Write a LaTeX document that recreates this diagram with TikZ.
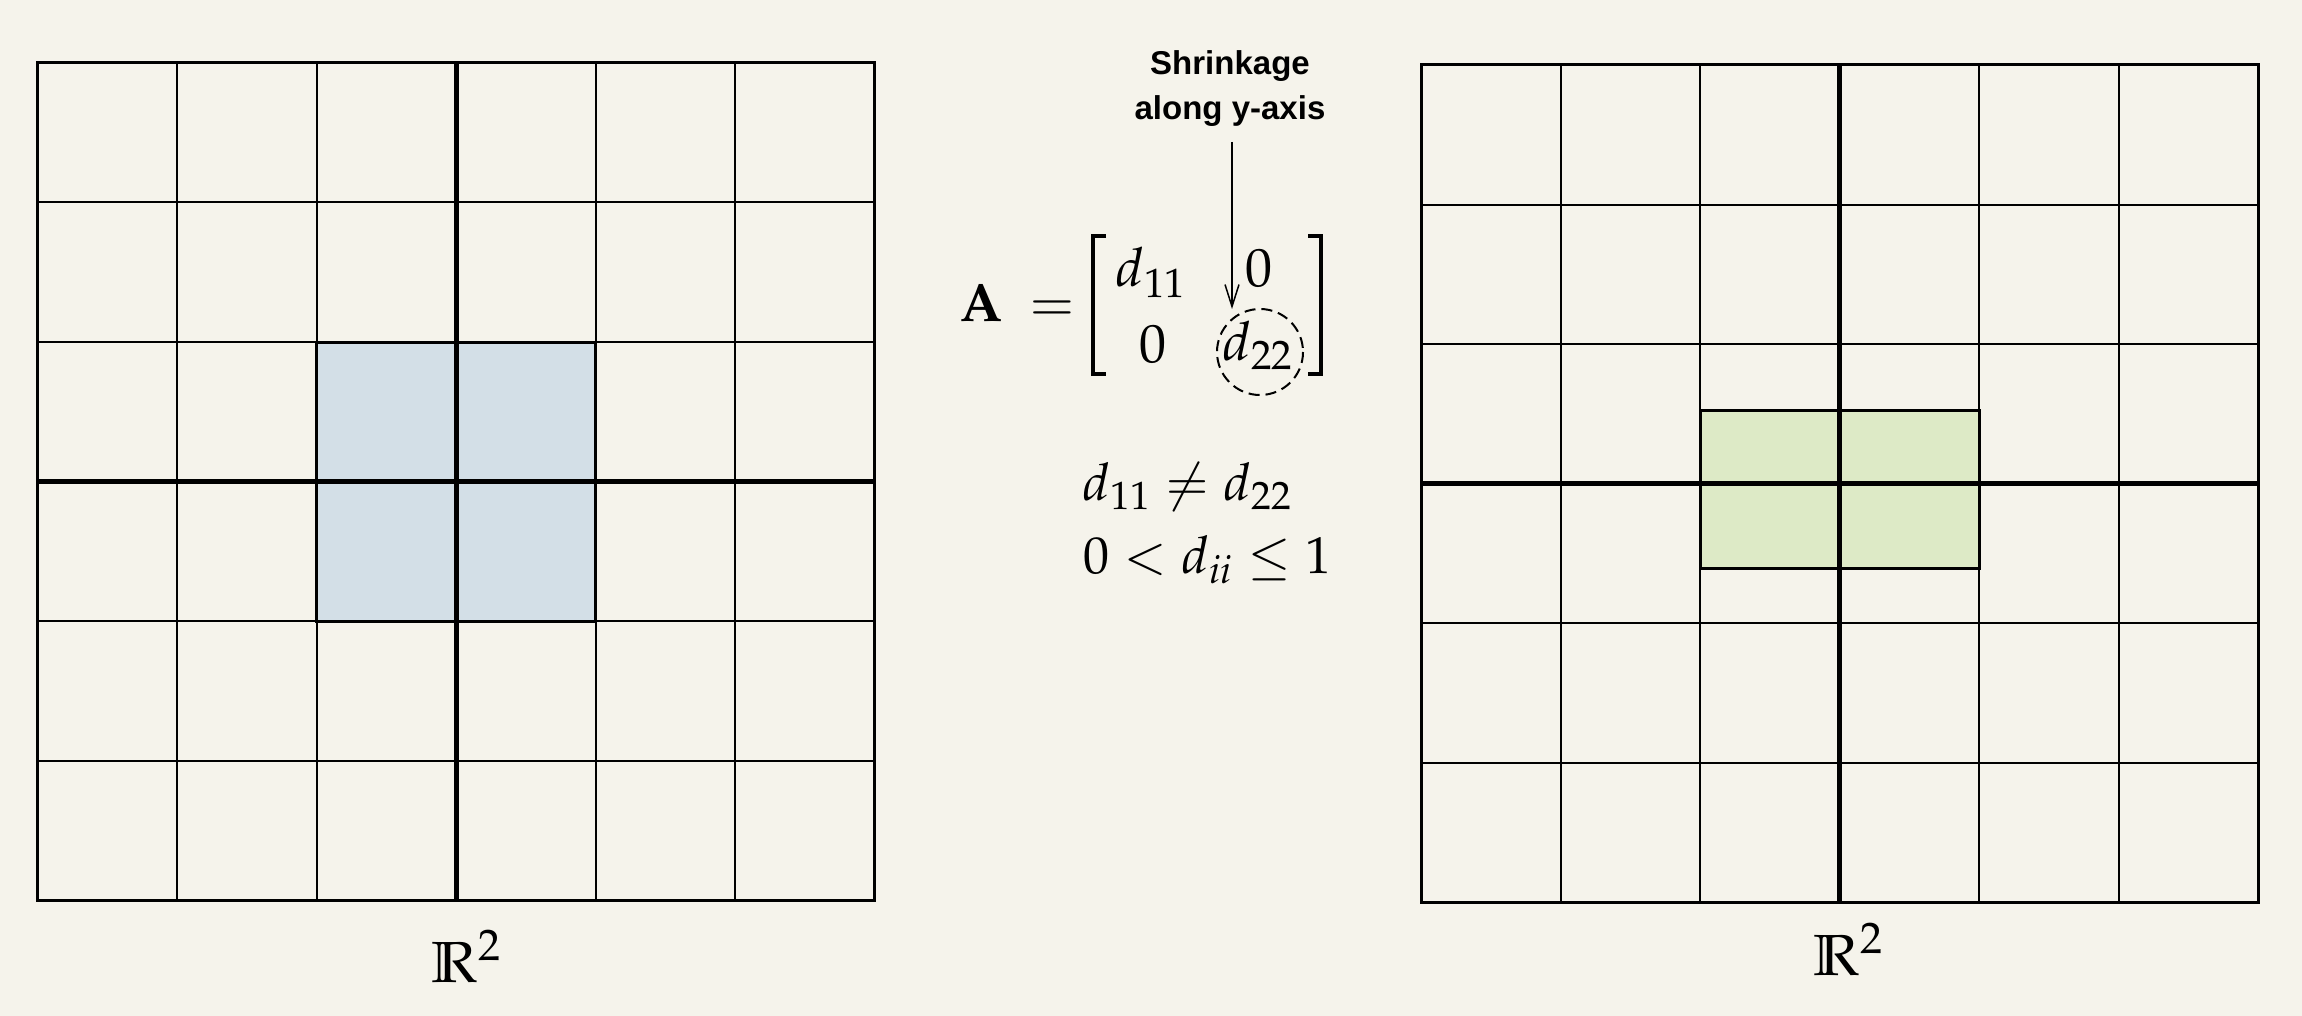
\documentclass[tikz,border=0pt]{standalone}
\usepackage{mathpazo}
\usepackage{amssymb}
\usepackage[no-math]{fontspec}
\newfontfamily\labfont{Liberation Sans}
\usetikzlibrary{arrows.meta}
\definecolor{bgc}{RGB}{245,243,235}
\definecolor{bluefill}{RGB}{211,223,231}
\definecolor{greenfill}{RGB}{221,234,198}
\tikzset{
  gridline/.style={line width=2pt, black},
  gridborder/.style={line width=3pt, black},
  axisline/.style={line width=5pt, black},
  rectborder/.style={line width=3pt, black},
  mathbig/.style={inner sep=0pt, font=\fontsize{54}{60}\selectfont},
  mathcond/.style={inner sep=0pt, font=\fontsize{52}{60}\selectfont},
  mathR/.style={inner sep=0pt, font=\fontsize{58}{64}\selectfont},
  bracket/.style={line width=4pt, black},
  notebox/.style={inner sep=0pt, align=center, font=\labfont\bfseries\fontsize{33}{45}\selectfont},
}
\begin{document}
\begin{tikzpicture}[x=1pt,y=-1pt]
\useasboundingbox[fill=bgc] (0,0) rectangle (2302,1016);
% ---------- left grid ----------
\fill[bluefill] (316.5,342) rectangle (595.5,621);
\foreach \i in {1,2,4,5} {
  \draw[gridline] ({37.5+\i*139.5},63) -- ++(0,837);
  \draw[gridline] (37.5,{63+\i*139.5}) -- ++(837,0);
}
\draw[gridborder] (37.5,63) rectangle (874.5,900);
\draw[axisline] (456,63) -- (456,900);
\draw[axisline] (37.5,481.5) -- (874.5,481.5);
\draw[rectborder] (316.5,342) rectangle (595.5,621);
\node[mathR, anchor=base] (RL) at (466,982) {$\mathbb{R}^2$};
% ---------- right grid ----------
\fill[greenfill] (1700.2,410) rectangle (1979.4,568);
\foreach \i in {1,2,4,5} {
  \draw[gridline] ({1421+\i*139.6},65) -- ++(0,837.6);
  \draw[gridline] (1421,{65+\i*139.6}) -- ++(837.6,0);
}
\draw[gridborder] (1421,65) rectangle (2258.6,902.6);
\draw[axisline] (1839.8,65) -- (1839.8,902.6);
\draw[axisline] (1421,483.8) -- (2258.6,483.8);
\draw[rectborder] (1700.2,410) rectangle (1979.4,568);
\node[mathR, anchor=base] (RR) at (1848,975) {$\mathbb{R}^2$};
% ---------- matrix ----------
\node[mathbig, anchor=base] (A) at (981,322) {$\mathbf{A}$};
\node[mathbig, anchor=base] (eq) at (1052,322) {$=$};
\draw[bracket] (1106,236) -- (1093,236) -- (1093,374) -- (1106,374);
\draw[bracket] (1308,236) -- (1321,236) -- (1321,374) -- (1308,374);
\node[mathbig, anchor=base] (m11) at (1151,287) {$d_{11}$};
\node[mathbig, anchor=base] (m12) at (1259,287) {$0$};
\node[mathbig, anchor=base] (m21) at (1153,362) {$0$};
\node[mathbig, anchor=base] (m22) at (1258,360) {$d_{22}$};
\coordinate (d22c) at (1260,352);
\coordinate (d22top) at (1260,309);
\draw[line width=2pt, dash pattern=on 11pt off 6pt] (d22c) circle[radius=43];
% ---------- annotation ----------
\node[notebox] (note) at (1230,89) {Shrinkage\\along y-axis};
\coordinate (arrtop) at (1232,142);
\draw[line width=1.5pt, -{Straight Barb[length=22pt,width=14pt,line width=1.5pt]}]
  (arrtop) -- (arrtop |- d22top);
% ---------- conditions ----------
\node[mathcond, anchor=base west] (c1) at (1083,500) {$d_{11} \neq d_{22}$};
\node[mathcond, anchor=base west] (c2) at (1083,573) {$0 < d_{ii} \leq 1$};
\end{tikzpicture}
\end{document}
